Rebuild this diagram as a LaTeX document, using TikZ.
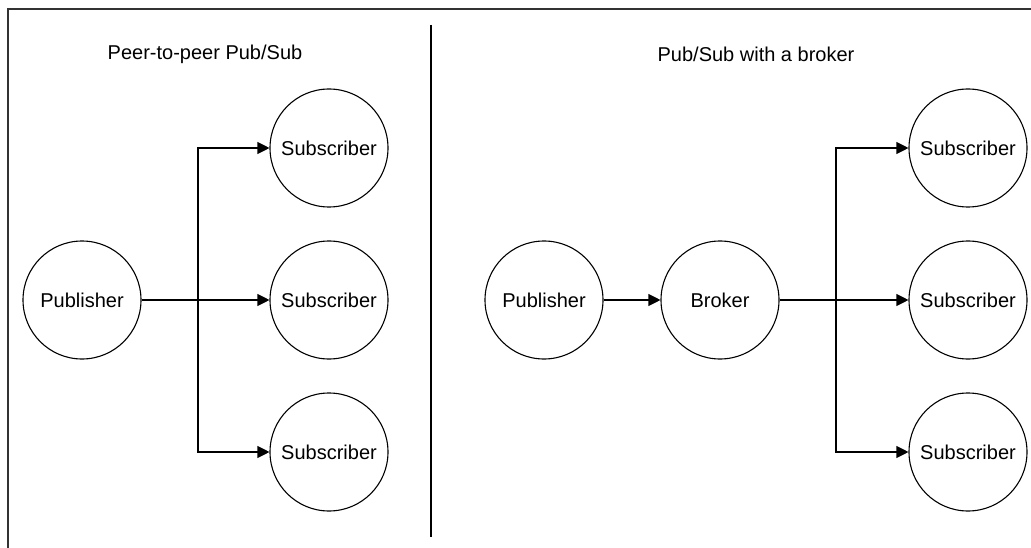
\documentclass[tikz,border=0pt]{standalone}
\usepackage{fontspec}
\setmainfont{Liberation Sans}
\usetikzlibrary{arrows.meta}
\begin{document}
\begin{tikzpicture}[x=1pt,y=-1pt,
  actor/.style={circle,draw=black,line width=1.1pt,fill=white,minimum size=118pt,inner sep=0pt,font=\fontsize{20}{22}\selectfont},
  title/.style={font=\fontsize{20}{22}\selectfont,inner sep=0pt},
  conn/.style={draw=black,line width=1.1pt,-{Triangle[length=12pt,width=12pt]}}]
\useasboundingbox (0,0) rectangle (1031,548);
% frame and divider
\coordinate (ftr) at (1031,9);
\coordinate (ftl) at (8,9);
\coordinate (fbl) at (8,548);
\draw[black!80,line width=1.5pt] (ftr) -- (ftl) -- (fbl);
\coordinate (dtop) at (431,25);
\coordinate (dbot) at (431,537);
\draw[black,line width=2.2pt] (dtop) -- (dbot);
% titles
\node[title] (t1) at (205,54) {Peer-to-peer Pub/Sub};
\node[title] (t2) at (756,54) {Pub/Sub with a broker};
% left side
\node[actor] (pubL) at (82,300) {Publisher};
\node[actor] (s1) at (329,148) {Subscriber};
\node[actor] (s2) at (329,300) {Subscriber};
\node[actor] (s3) at (329,452) {Subscriber};
\coordinate (bL) at (198,300);
\draw[conn] (pubL.east) -- (s2.west);
\draw[conn] (bL) |- (s1.west);
\draw[conn] (bL) |- (s3.west);
% right side
\node[actor] (pubR) at (544,300) {Publisher};
\node[actor] (brk) at (720,300) {Broker};
\node[actor] (r1) at (968,148) {Subscriber};
\node[actor] (r2) at (968,300) {Subscriber};
\node[actor] (r3) at (968,452) {Subscriber};
\coordinate (bR) at (836,300);
\draw[conn] (pubR.east) -- (brk.west);
\draw[conn] (brk.east) -- (r2.west);
\draw[conn] (bR) |- (r1.west);
\draw[conn] (bR) |- (r3.west);
\end{tikzpicture}
\end{document}
